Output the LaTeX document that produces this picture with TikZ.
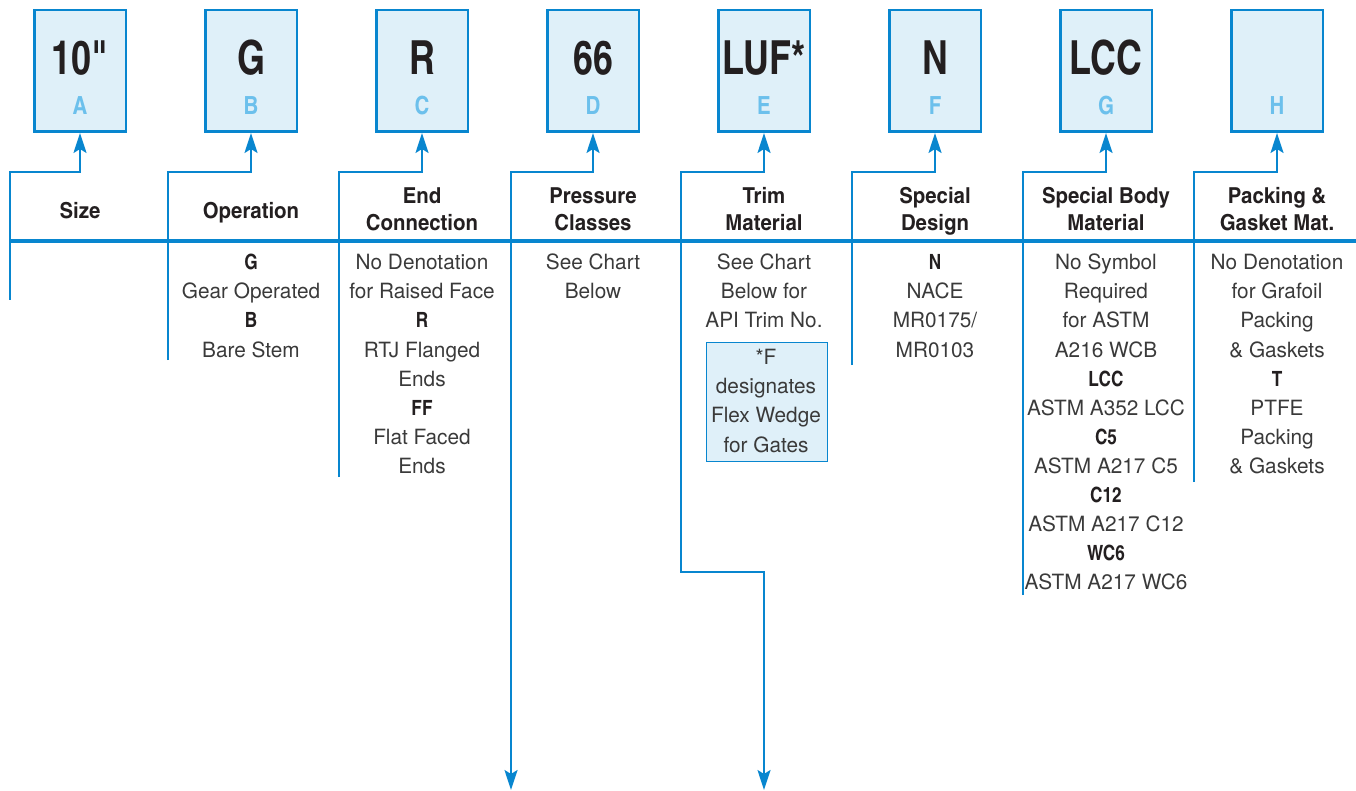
\documentclass[tikz,border=0pt]{standalone}
\usepackage{fontspec}
\setmainfont{texgyreheroscn}[Extension=.otf, UprightFont=*-regular, BoldFont=*-bold]
\newfontfamily\bigfont{texgyreheroscn}[Extension=.otf, UprightFont=*-bold, FakeStretch=0.93]
\newfontfamily\headfont{texgyreheroscn}[Extension=.otf, UprightFont=*-bold, FakeStretch=1.13]
\newfontfamily\bodyfont{texgyreheros}[Extension=.otf, UprightFont=*-regular, BoldFont=texgyreheroscn-bold, FakeStretch=0.99]
\newfontfamily\inbold{texgyreheroscn}[Extension=.otf, UprightFont=*-bold]
\usetikzlibrary{arrows.meta}
\definecolor{cblue}{RGB}{8,134,207}
\definecolor{cfill}{RGB}{223,240,249}
\definecolor{clight}{RGB}{108,192,236}
\definecolor{ctext}{RGB}{58,58,58}
\definecolor{cdark}{RGB}{35,31,32}
\newcommand{\fl}{\rule{0pt}{20pt}}
\newcommand{\hb}[1]{{\inbold\color{cdark}#1}}
\begin{document}
\begin{tikzpicture}[x=1pt,y=-1pt,
  codebox/.style={draw=cblue, line width=2.5pt, fill=cfill, minimum width=91.5pt, minimum height=121.5pt, inner sep=0},
  bigtxt/.style={font=\fontsize{47}{50}\bigfont, text=cdark, anchor=base, inner sep=0},
  lettxt/.style={font=\fontsize{25}{28}\inbold, text=clight, anchor=base, inner sep=0},
  headtxt/.style={font=\fontsize{22}{27}\headfont, text=cdark, align=center, anchor=north, inner sep=0},
  bodytxt/.style={font=\fontsize{21}{29.1}\bodyfont, text=ctext, align=center, anchor=north, inner sep=0},
  conn/.style={draw=cblue, line width=2pt},
  tip/.tip={Stealth[length=20pt, width=13pt, inset=4pt]}
]
\useasboundingbox (0,0) rectangle (1356,791);

% code boxes
\foreach \n/\x/\v in {A/80/{10\symbol{34}},B/251/G,C/422/R,D/593/66,E/764/LUF*,F/935/N,G/1106/LCC,H/1277/{}}{
  \node[codebox] (b\n) at (\x,71) {};
  \node[bigtxt] (v\n) at (\x,75) {\v};
  \node[lettxt] (l\n) at (\x,115) {\n};
}

% main line
\coordinate (mL) at (10,241);
\coordinate (mR) at (1356,241);
\draw[cblue, line width=4.5pt] (mL) -- (mR);

% connectors
\coordinate (kA) at (10,172);   \coordinate (eA) at (10,300);
\coordinate (kB) at (168,172);  \coordinate (eB) at (168,360);
\coordinate (kC) at (339,172);  \coordinate (eC) at (339,477);
\coordinate (kD) at (511,172);  \coordinate (eD) at (511,790);
\coordinate (kE) at (681,172);  \coordinate (jE) at (681,572); \coordinate (iE) at (764,572); \coordinate (eE) at (764,790);
\coordinate (kF) at (852,172);  \coordinate (eF) at (852,365);
\coordinate (kG) at (1023,172); \coordinate (eG) at (1023,595);
\coordinate (kH) at (1194,172); \coordinate (eH) at (1194,482);

\draw[conn, -tip] (eA) -- (kA) -| (bA.south);
\draw[conn, -tip] (eB) -- (kB) -| (bB.south);
\draw[conn, -tip] (eC) -- (kC) -| (bC.south);
\draw[conn, tip-tip] (eD) -- (kD) -| (bD.south);
\draw[conn, tip-tip] (eE) -- (iE) -- (jE) -- (kE) -| (bE.south);
\draw[conn, -tip] (eF) -- (kF) -| (bF.south);
\draw[conn, -tip] (eG) -- (kG) -| (bG.south);
\draw[conn, -tip] (eH) -- (kH) -| (bH.south);

% headings
\node[headtxt] (hA) at (80,198.5) {\fl Size};
\node[headtxt] (hB) at (251,198.5) {\fl Operation};
\node[headtxt] (hC) at (422,183.5) {\fl End\\Connection};
\node[headtxt] (hD) at (593,183.5) {\fl Pressure\\Classes};
\node[headtxt] (hE) at (764,183.5) {\fl Trim\\Material};
\node[headtxt] (hF) at (935,183.5) {\fl Special\\Design};
\node[headtxt] (hG) at (1106,183.5) {\fl Special Body\\Material};
\node[headtxt] (hH) at (1277,183.5) {\fl Packing \&\\Gasket Mat.};

% body texts
\node[bodytxt] (tB) at (251,249.5) {\fl\hb{G}\\Gear Operated\\\hb{B}\\Bare Stem};
\node[bodytxt] (tC) at (422,249.5) {\fl No Denotation\\for Raised Face\\\hb{R}\\RTJ Flanged\\Ends\\\hb{FF}\\Flat Faced\\Ends};
\node[bodytxt] (tD) at (593,249.5) {\fl See Chart\\Below};
\node[bodytxt] (tE) at (764,249.5) {\fl See Chart\\Below for\\API Trim No.};
\node[bodytxt] (tF) at (935,249.5) {\fl\hb{N}\\NACE\\MR0175/\\MR0103};
\node[bodytxt] (tG) at (1106,249.5) {\fl No Symbol\\Required\\for ASTM\\A216 WCB\\\hb{LCC}\\ASTM A352 LCC\\\hb{C5}\\ASTM A217 C5\\\hb{C12}\\ASTM A217 C12\\\hb{WC6}\\ASTM A217 WC6};
\node[bodytxt] (tH) at (1277,249.5) {\fl No Denotation\\for Grafoil\\Packing\\\& Gaskets\\\hb{T}\\PTFE\\Packing\\\& Gaskets};

% note box
\node[draw=cblue, line width=1.2pt, fill=cfill, minimum width=121pt, minimum height=119pt, inner sep=0] (note) at (767,402) {};
\node[bodytxt] (noteT) at (766,344.5) {\fl *F\\designates\\Flex Wedge\\for Gates};
\end{tikzpicture}
\end{document}
